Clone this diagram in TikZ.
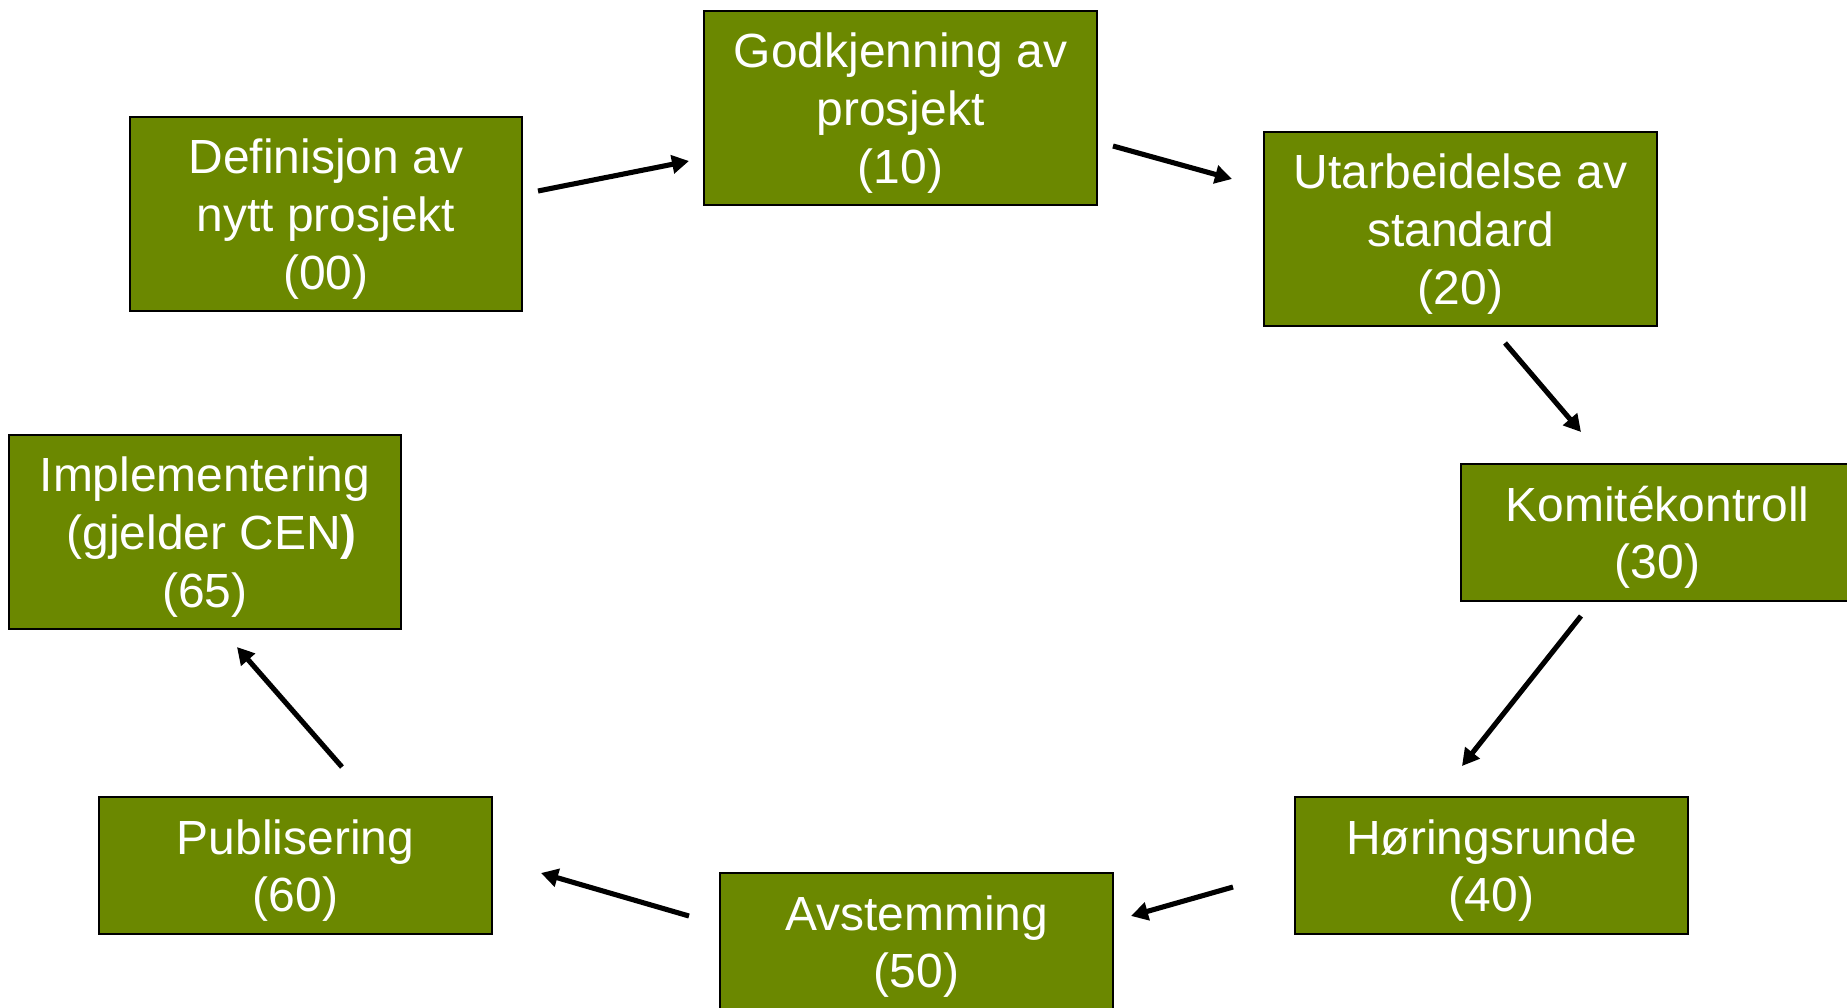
\documentclass[tikz,border=0pt]{standalone}
\usepackage{fontspec}
\setmainfont{Liberation Sans}
\usetikzlibrary{arrows.meta}
\definecolor{stepgreen}{RGB}{107,136,0}
\tikzset{
  stage/.style={rectangle,draw=black,line width=1.1pt,fill=stepgreen,text=white,
    align=center,inner sep=0pt,minimum width=7.86cm,minimum height=2.74cm,
    font=\fontsize{27.3}{32.8}\selectfont,text depth=-0.05cm},
  tall/.style={minimum height=3.88cm},
  flow/.style={line width=2.9pt,-{Triangle[length=0.34cm,width=0.36cm]}}
}
\begin{document}
\begin{tikzpicture}[x=0.02cm,y=-0.02cm]
      \useasboundingbox (0,0) rectangle (1847,1008);

      \begin{scope}[every node/.style={stage}]
        \node[tall] (00) at (326,214)    {Definisjon av\\nytt prosjekt\\(00)};
        \node[tall] (10) at (900.5,108)  {Godkjenning av\\prosjekt\\(10)};
        \node[tall] (20) at (1460.5,229) {Utarbeidelse av\\standard\\(20)};
        \node (30) at (1657.5,532.5)     {Komitékontroll\\(30)};
        \node (40) at (1491.5,865.5)     {Høringsrunde\\(40)};
        \node (50) at (916.5,941.5)      {Avstemming\\(50)};
        \node (60) at (295.5,865.5)      {Publisering\\(60)};
        \node[tall] (65) at (205,532)    {Implementering\\\ (gjelder CEN\textbf{)}\\(65)};
      \end{scope}

      % arrow ends between the boxes
      \coordinate (00s) at (538,191);  \coordinate (10e) at (689,161);
      \coordinate (10s) at (1113,146); \coordinate (20e) at (1232,179);
      \coordinate (20s) at (1505,343); \coordinate (30e) at (1581,432);
      \coordinate (30s) at (1581,616); \coordinate (40e) at (1462,766);
      \coordinate (40s) at (1233,887); \coordinate (50e) at (1131,916);
      \coordinate (50s) at (689,916);  \coordinate (60e) at (541,873);
      \coordinate (60s) at (342,767);  \coordinate (65e) at (237,647);

      \begin{scope}[every path/.style={flow}]
        \draw (00s) -- (10e);
        \draw (10s) -- (20e);
        \draw (20s) -- (30e);
        \draw (30s) -- (40e);
        \draw (40s) -- (50e);
        \draw (50s) -- (60e);
        \draw (60s) -- (65e);
      \end{scope}

    \end{tikzpicture}
\end{document}
